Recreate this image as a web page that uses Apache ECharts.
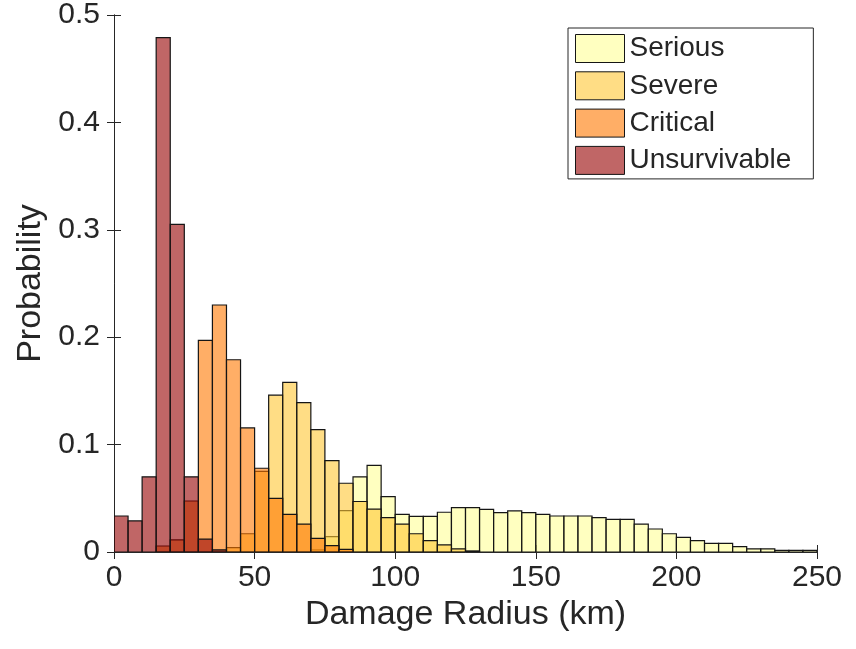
<!DOCTYPE html>
<html>
<head>
<meta charset="utf-8">
<script src="https://cdn.jsdelivr.net/npm/echarts@6/dist/echarts.min.js"></script>
<style>
  html, body { margin: 0; padding: 0; background: #ffffff; }
  #chart { width: 856px; height: 649px; }
</style>
</head>
<body>
<div id="chart"></div>
<script>
// Histogram bins: 5 km wide, from 0 to 250 km
const BIN_WIDTH = 5;
const seriesNames = ['Serious', 'Severe', 'Critical', 'Unsurvivable'];
const xTicks = [0, 50, 100, 150, 200, 250];
const yTicks = [0, 0.1, 0.2, 0.3, 0.4, 0.5];

const serious = [
  0, 0, 0, 0, 0, 0, 0, 0, 0, 0,
  0, 0, 0, 0, 0.002, 0.0143, 0.0385, 0.070, 0.0807, 0.0515,
  0.035, 0.0332, 0.0332, 0.037, 0.0413, 0.0413, 0.0397, 0.0366, 0.0382, 0.0366,
  0.0351, 0.0335, 0.0335, 0.0335, 0.032, 0.0304, 0.0304, 0.026, 0.0214, 0.017,
  0.0137, 0.0105, 0.008, 0.008, 0.005, 0.003, 0.003, 0.0015, 0.0015, 0.0015
];
const severe = [
  0, 0, 0, 0, 0, 0, 0, 0, 0.004, 0.017,
  0.075, 0.146, 0.158, 0.139, 0.114, 0.085, 0.064, 0.047, 0.040, 0.032,
  0.026, 0.017, 0.0105, 0.0067, 0.003, 0.001, 0, 0, 0, 0,
  0, 0, 0, 0, 0, 0, 0, 0, 0, 0,
  0, 0, 0, 0, 0, 0, 0, 0, 0, 0
];
const critical = [
  0, 0, 0, 0.0056, 0.0112, 0.0475, 0.197, 0.230, 0.179, 0.1155,
  0.078, 0.050, 0.035, 0.026, 0.0127, 0.006, 0.0025, 0, 0, 0,
  0, 0, 0, 0, 0, 0, 0, 0, 0, 0,
  0, 0, 0, 0, 0, 0, 0, 0, 0, 0,
  0, 0, 0, 0, 0, 0, 0, 0, 0, 0
];
const unsurvivable = [
  0.0335, 0.029, 0.070, 0.479, 0.305, 0.070, 0.012, 0.002, 0, 0,
  0, 0, 0, 0, 0, 0, 0, 0, 0, 0,
  0, 0, 0, 0, 0, 0, 0, 0, 0, 0,
  0, 0, 0, 0, 0, 0, 0, 0, 0, 0,
  0, 0, 0, 0, 0, 0, 0, 0, 0, 0
];

const fills = [
  'rgba(255,255,150,0.6)',
  'rgba(255,198,52,0.6)',
  'rgba(255,120,0,0.6)',
  'rgba(150,0,0,0.6)'
];
const EDGE = '#151515';
const TXT = '#262626';
const FONT = "'Liberation Sans', Arial, Helvetica, sans-serif";

function toData(values) {
  const out = [];
  values.forEach((v, i) => {
    if (v > 0) out.push([i * BIN_WIDTH, (i + 1) * BIN_WIDTH, v]);
  });
  return out;
}

function makeSeries(name, values, fill) {
  return {
    name: name,
    type: 'custom',
    xAxisIndex: 0,
    yAxisIndex: 0,
    clip: true,
    itemStyle: { color: fill, borderColor: EDGE, borderWidth: 1 },
    encode: { x: [0, 1], y: 2 },
    data: toData(values),
    renderItem: function (params, api) {
      const p0 = api.coord([api.value(0), api.value(2)]);
      const p1 = api.coord([api.value(1), 0]);
      return {
        type: 'rect',
        shape: { x: p0[0], y: p0[1], width: p1[0] - p0[0], height: p1[1] - p0[1] },
        style: { fill: fill, stroke: EDGE, lineWidth: 1.2 }
      };
    }
  };
}

const chart = echarts.init(document.getElementById('chart'), null, { renderer: 'canvas' });

const axisCommon = {
  axisLine: { show: true, lineStyle: { color: TXT, width: 1 } },
  axisTick: { show: true, inside: true, length: 7, lineStyle: { color: TXT, width: 1 } },
  splitLine: { show: false }
};

chart.setOption({
  animation: false,
  backgroundColor: '#ffffff',
  textStyle: { fontFamily: FONT },
  grid: { left: 114, right: 39, top: 15, bottom: 97, show: false },
  legend: {
    orient: 'vertical',
    left: 568,
    top: 28,
    padding: [6, 22, 4, 7],
    itemWidth: 49,
    itemHeight: 28,
    itemGap: 8.3,
    borderColor: TXT,
    borderWidth: 1,
    backgroundColor: '#ffffff',
    selectedMode: false,
    textStyle: { fontFamily: FONT, fontSize: 28, color: TXT, lineHeight: 28 },
    data: seriesNames.map((n, i) => ({
      name: n,
      icon: 'rect',
      itemStyle: { color: fills[i], borderColor: EDGE, borderWidth: 1 }
    }))
  },
  xAxis: [
    Object.assign({
      type: 'value', position: 'bottom', min: xTicks[0], max: xTicks[xTicks.length - 1], interval: 50,
      name: 'Damage Radius (km)', nameLocation: 'middle', nameGap: 46,
      nameTextStyle: { fontFamily: FONT, fontSize: 34, color: TXT },
      axisLabel: { fontFamily: FONT, fontSize: 30, color: TXT, margin: 11 }
    }, axisCommon),
    Object.assign({
      type: 'value', position: 'top', min: xTicks[0], max: xTicks[xTicks.length - 1], interval: 50,
      axisLabel: { show: false }
    }, axisCommon)
  ],
  yAxis: [
    Object.assign({
      type: 'value', position: 'left', min: yTicks[0], max: yTicks[yTicks.length - 1], interval: 0.1,
      name: 'Probability', nameLocation: 'middle', nameGap: 58,
      nameTextStyle: { fontFamily: FONT, fontSize: 34, color: TXT },
      axisLabel: { fontFamily: FONT, fontSize: 30, color: TXT, margin: 14 }
    }, axisCommon),
    Object.assign({
      type: 'value', position: 'right', min: yTicks[0], max: yTicks[yTicks.length - 1], interval: 0.1,
      axisLabel: { show: false }
    }, axisCommon)
  ],
  series: [
    makeSeries(seriesNames[0], serious, fills[0]),
    makeSeries(seriesNames[1], severe, fills[1]),
    makeSeries(seriesNames[2], critical, fills[2]),
    makeSeries(seriesNames[3], unsurvivable, fills[3])
  ]
});
</script>
</body>
</html>
